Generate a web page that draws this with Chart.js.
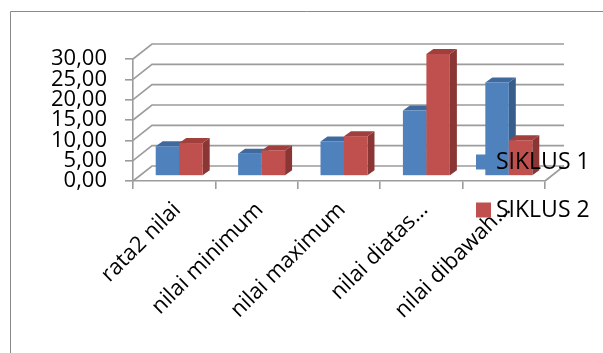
<!DOCTYPE html>
<html>
<head>
<meta charset="utf-8">
<script src="https://cdn.jsdelivr.net/npm/chart.js@4/dist/chart.umd.min.js"></script>
<style>
  html, body { margin: 0; padding: 0; background: #fff; }
  #wrap { width: 603px; height: 353px; position: relative; }
</style>
</head>
<body>
<div id="wrap"><canvas id="c" width="603" height="353"></canvas></div>
<script>
// Categories and series values
const categories = ['rata2 nilai', 'nilai minimum', 'nilai maximum', 'nilai diatas…', 'nilai dibawah…'];
const siklus1 = [7.3, 5.5, 8.5, 16.1, 23.0];
const siklus2 = [8.1, 6.3, 9.8, 30.0, 8.8];
const seriesNames = ['SIKLUS 1', 'SIKLUS 2'];
const yTickValues = [0, 5, 10, 15, 20, 25, 30];
const yTickLabels = ['0,00', '5,00', '10,00', '15,00', '20,00', '25,00', '30,00'];

// Colours
const faceColors = ['#4F81BD', '#C0504D'];
const topColors  = ['#3E6A9F', '#A03F3C'];
const sideColors = ['#385D8A', '#8A3634'];
const gridColor = '#9c9c9c';
const FONT = '"Open Sans", "Liberation Sans", sans-serif';

// Perspective offsets (pixels)
const WALL_DX = 19, WALL_DY = -15;   // full depth of the floor
const BAR_DX = 5, BAR_DY = -5;       // bars stand part way back
const SIDE_DX = 7, SIDE_DY = -5;     // thickness of each box

const threeD = {
  id: 'threeD',
  beforeDraw(chart) {
    const ctx = chart.ctx;
    ctx.save();
    ctx.strokeStyle = '#8a8a8a';
    ctx.lineWidth = 1;
    ctx.beginPath();
    ctx.moveTo(10.5, 353);
    ctx.lineTo(10.5, 11.5);
    ctx.lineTo(603, 11.5);
    ctx.stroke();
    ctx.restore();
  },
  beforeDatasetsDraw(chart) {
    const { ctx, chartArea: a, scales: { y } } = chart;
    ctx.save();
    ctx.strokeStyle = gridColor;
    ctx.lineWidth = 1.6;
    yTickValues.forEach(v => {
      const py = y.getPixelForValue(v);
      ctx.beginPath();
      ctx.moveTo(a.left, py);
      ctx.lineTo(a.left + WALL_DX, py + WALL_DY);
      ctx.lineTo(a.right + WALL_DX, py + WALL_DY);
      ctx.stroke();
    });
    const pb = y.getPixelForValue(0);
    ctx.beginPath();
    ctx.moveTo(a.right, pb);
    ctx.lineTo(a.right + WALL_DX, pb + WALL_DY);
    ctx.stroke();
    ctx.restore();
  },
  beforeDatasetDraw() {
    return false; // boxes are drawn below instead of flat rectangles
  },
  afterDatasetsDraw(chart) {
    const ctx = chart.ctx;
    const metas = chart.data.datasets.map((d, i) => chart.getDatasetMeta(i));
    ctx.save();
    for (let k = 0; k < categories.length; k++) {
      metas.forEach((meta, di) => {
        const el = meta.data[k];
        const p = el.getProps(['x', 'y', 'base', 'width'], true);
        const l = p.x - p.width / 2 + BAR_DX;
        const r = p.x + p.width / 2 + BAR_DX;
        const t = p.y + BAR_DY;
        const b = p.base + BAR_DY;
        // side
        ctx.fillStyle = sideColors[di];
        ctx.beginPath();
        ctx.moveTo(r, t);
        ctx.lineTo(r + SIDE_DX, t + SIDE_DY);
        ctx.lineTo(r + SIDE_DX, b + SIDE_DY);
        ctx.lineTo(r, b);
        ctx.closePath();
        ctx.fill();
        // top
        ctx.fillStyle = topColors[di];
        ctx.beginPath();
        ctx.moveTo(l, t);
        ctx.lineTo(l + SIDE_DX, t + SIDE_DY);
        ctx.lineTo(r + SIDE_DX, t + SIDE_DY);
        ctx.lineTo(r, t);
        ctx.closePath();
        ctx.fill();
        // front
        ctx.fillStyle = faceColors[di];
        ctx.fillRect(l, t, r - l, b - t);
      });
    }
    ctx.restore();
  },
  afterDraw(chart) {
    // legend
    const ctx = chart.ctx;
    ctx.save();
    ctx.font = '23px ' + FONT;
    ctx.textBaseline = 'middle';
    ctx.textAlign = 'left';
    const rows = [162, 210];
    chart.data.datasets.forEach((d, i) => {
      ctx.fillStyle = faceColors[i];
      ctx.fillRect(476, rows[i] - 7.5, 15, 15);
      ctx.fillStyle = '#000';
      ctx.fillText(d.label, 496, rows[i]);
    });
    ctx.restore();
  }
};

new Chart(document.getElementById('c'), {
  type: 'bar',
  data: {
    labels: categories,
    datasets: [
      { label: seriesNames[0], data: siklus1, backgroundColor: faceColors[0] },
      { label: seriesNames[1], data: siklus2, backgroundColor: faceColors[1] }
    ]
  },
  options: {
    responsive: false,
    animation: false,
    events: [],
    layout: { padding: { top: 59, right: 58, left: 0, bottom: 0 } },
    datasets: { bar: { categoryPercentage: 0.57, barPercentage: 1 } },
    plugins: { legend: { display: false }, tooltip: { enabled: false } },
    scales: {
      x: {
        afterFit(scale) { scale.height = 172; },
        grid: { drawOnChartArea: false, drawTicks: true, tickLength: 8, color: gridColor, lineWidth: 1.6, offset: true },
        border: { color: gridColor, width: 1.6 },
        ticks: {
          autoSkip: false, minRotation: 45, maxRotation: 45,
          color: '#000', font: { family: FONT, size: 22 },
          padding: 8, labelOffset: 3
        }
      },
      y: {
        min: 0, max: 30,
        afterFit(scale) { scale.width = 133; },
        afterBuildTicks(scale) { scale.ticks = yTickValues.map(v => ({ value: v })); },
        grid: { drawOnChartArea: false, drawTicks: true, tickLength: 8, color: gridColor, lineWidth: 1.6 },
        border: { color: gridColor, width: 1.6 },
        ticks: {
          autoSkip: false,
          color: '#000', font: { family: FONT, size: 22 }, padding: 18,
          callback: (v, i) => yTickLabels[i]
        }
      }
    }
  },
  plugins: [threeD]
});
</script>
</body>
</html>
